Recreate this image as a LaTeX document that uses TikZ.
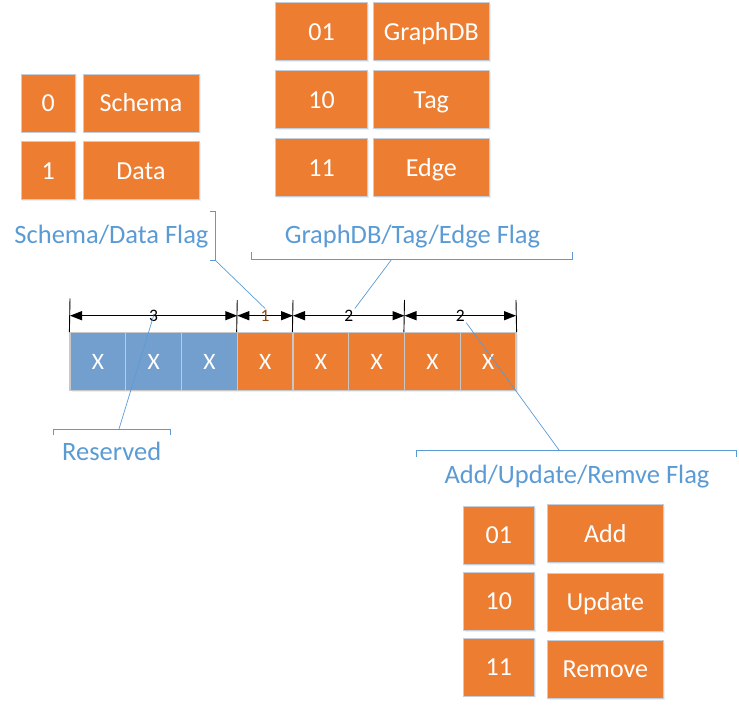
\documentclass[tikz,border=0pt]{standalone}
\usepackage{fontspec}
\setmainfont{Carlito}
\usepackage{xcolor}
\usetikzlibrary{arrows.meta, shadows}

\definecolor{boxorange}{RGB}{237,125,49}
\definecolor{cellblue}{RGB}{115,159,206}
\definecolor{noteblue}{RGB}{91,155,213}
\definecolor{boxedge}{RGB}{196,206,218}
\definecolor{celledge}{RGB}{200,200,200}
\definecolor{dimorange}{RGB}{140,75,20}

\begin{document}
\begin{tikzpicture}[x=1pt, y=-1pt, >={Triangle[length=12pt, width=9pt]},
    glow/.style={drop shadow={shadow xshift=1.5pt, shadow yshift=-1.5pt, fill=noteblue!30, opacity=0.5}},
    box/.style={glow, draw=boxedge, line width=0.8pt, fill=boxorange, text=white, inner sep=0pt,
        minimum height=58pt, text height=16.7pt, text depth=0pt, font=\fontsize{26}{30}\selectfont},
    bit/.style={glow, draw=celledge, line width=1.2pt, fill=boxorange, text=white, inner sep=0pt,
        minimum width=55.75pt, minimum height=58pt, text height=15pt, text depth=0pt, font=\fontsize{23.5}{27}\selectfont},
    dimlabel/.style={inner sep=1pt, text height=11pt, text depth=0pt, font=\fontsize{17.5}{20}\selectfont},
    note/.style={anchor=base, inner sep=0pt, text=noteblue, font=\fontsize{26.5}{30}\selectfont},
    bracket/.style={draw=noteblue, line width=0.8pt},
    leader/.style={draw=noteblue, line width=0.7pt}]
    \useasboundingbox (0,0) rectangle (739,708);

    % schema / data table
    \node[box, minimum width=54.7pt] (zero) at (48.3,103) {0};
    \node[box, minimum width=116pt] (schema) at (141,103) {Schema};
    \node[box, minimum width=54.7pt] (one) at (48.3,170.8) {1};
    \node[box, minimum width=116pt] (data) at (141,170.8) {Data};

    % graphdb / tag / edge table
    \node[box, minimum width=91.6pt] (gcode) at (321.5,31.8) {01};
    \node[box, minimum width=116pt] (graphdb) at (431.3,31.8) {GraphDB};
    \node[box, minimum width=91.6pt] (tcode) at (321.5,99.8) {10};
    \node[box, minimum width=116pt] (tag) at (431.3,99.8) {Tag};
    \node[box, minimum width=91.6pt] (ecode) at (321.5,167.7) {11};
    \node[box, minimum width=116pt] (edge) at (431.3,167.7) {Edge};

    % add / update / remove table
    \node[box, minimum width=71pt] (acode) at (498.8,535.2) {01};
    \node[box, minimum width=116pt] (add) at (605.3,533.8) {Add};
    \node[box, minimum width=71pt] (ucode) at (498.8,601) {10};
    \node[box, minimum width=116pt] (update) at (605.3,602.2) {Update};
    \node[box, minimum width=71pt] (rcode) at (498.8,666.9) {11};
    \node[box, minimum width=116pt] (remove) at (605.3,669.2) {Remove};

    % the bit row
    \node[bit, fill=cellblue] (c1) at (97.875,361.7) {X};
    \node[bit, fill=cellblue] (c2) at (153.625,361.7) {X};
    \node[bit, fill=cellblue] (c3) at (209.375,361.7) {X};
    \node[bit] (c4) at (265.125,361.7) {X};
    \node[bit] (c5) at (320.875,361.7) {X};
    \node[bit] (c6) at (376.625,361.7) {X};
    \node[bit] (c7) at (432.375,361.7) {X};
    \node[bit] (c8) at (488.125,361.7) {X};

    % extension lines
    \coordinate (e0) at (70,298.5);
    \coordinate (e1) at (237.25,300);
    \coordinate (e2) at (293,300);
    \coordinate (e3) at (404.5,300);
    \coordinate (e4) at (516,300);
    \draw[line width=0.9pt] (e0) -- (c1.north west);
    \draw[line width=0.9pt] (e1) -- (c4.north west);
    \draw[line width=0.9pt] (e2) -- (c5.north west);
    \draw[line width=0.9pt] (e3) -- (c7.north west);
    \draw[line width=0.9pt] (e4) -- (c8.north east);

    % dimension arrows
    \coordinate (a0) at (70,315.7);
    \coordinate (a1) at (237.25,315.7);
    \coordinate (a2) at (293,315.7);
    \coordinate (a3) at (404.5,315.7);
    \coordinate (a4) at (516,315.7);
    \draw[<->, line width=1.3pt] (a0) -- (a1) node[midway, dimlabel] (dimA) {3};
    \draw[<->, line width=1.3pt] (a1) -- (a2) node[midway, dimlabel, text=dimorange] (dimB) {1};
    \draw[<->, line width=1.3pt] (a2) -- (a3) node[midway, dimlabel] (dimC) {2};
    \draw[<->, line width=1.3pt] (a3) -- (a4) node[midway, dimlabel] (dimD) {2};

    % callouts
    \node[note] (sdflag) at (111.5,243.3) {Schema/Data Flag};
    \node[note] (gteflag) at (412.5,243.3) {GraphDB/Tag/Edge Flag};
    \node[note] (reserved) at (111.7,460.7) {Reserved};
    \node[note] (aurflag) at (577,483.3) {Add/Update/Remve Flag};

    \draw[bracket] (210,211.7) -- (215.7,211.7) -- (215.7,260.7) -- (210,260.7);
    \draw[bracket] (251.7,252.3) -- (251.7,259.3) -- (572.3,259.3) -- (572.3,252.3);
    \draw[bracket] (53.3,435) -- (53.3,429) -- (170,429) -- (170,435);
    \draw[bracket] (416.7,456.7) -- (416.7,450) -- (736.7,450) -- (736.7,456.7);

    \coordinate (sdtip) at (215.7,260.7);
    \coordinate (gtetip) at (391.7,259.3);
    \coordinate (restip) at (119,429);
    \coordinate (aurtip) at (559,450);
    \draw[leader] (sdtip) -- (dimB.north);
    \draw[leader] (gtetip) -- (dimC.north east);
    \draw[leader] (restip) -- (dimA.center);
    \draw[leader] (aurtip) -- (dimD.south east);
\end{tikzpicture}
\end{document}
